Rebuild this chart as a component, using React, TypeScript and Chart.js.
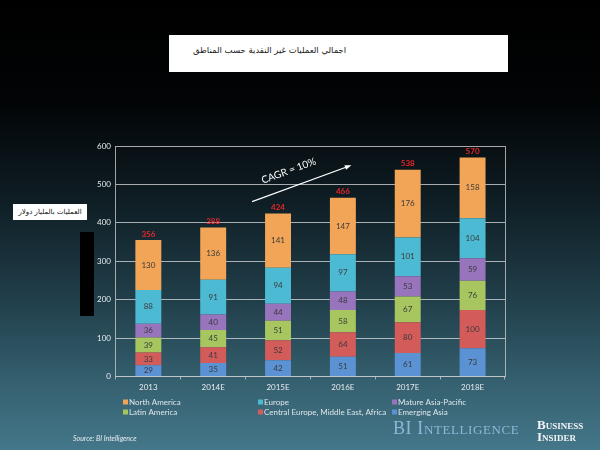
import React, { useEffect, useRef } from "react";
import { Chart, registerables } from "chart.js";
Chart.register(...registerables);

const categories = ["2013", "2014E", "2015E", "2016E", "2017E", "2018E"];
const emergingAsia = [29, 35, 42, 51, 61, 73];
const centralEuropeMEA = [33, 41, 52, 64, 80, 100];
const latinAmerica = [39, 45, 51, 58, 67, 76];
const matureAsiaPacific = [36, 40, 44, 48, 53, 59];
const europe = [88, 91, 94, 97, 101, 104];
const northAmerica = [130, 136, 141, 147, 176, 158];
const totals = [356, 388, 424, 466, 538, 570];
const yMax = 600;
const yStep = 100;
const cagrLabel = "CAGR = 10%";
// arrow endpoints in data space: [category index, value]
const cagrStart = [1.6, 455];
const cagrEnd = [3.1, 548];

const seriesNames = [
  "Emerging Asia",
  "Central Europe, Middle East, Africa",
  "Latin America",
  "Mature Asia-Pacific",
  "Europe",
  "North America",
];
const seriesValues = [emergingAsia, centralEuropeMEA, latinAmerica, matureAsiaPacific, europe, northAmerica];
const seriesColors = ["#5b92d3", "#d35b5a", "#a8c65f", "#9874bd", "#4dbad3", "#f2a557"];
const legendOrder = [5, 4, 3, 2, 1, 0];

const FONT = "Lato, 'Open Sans', sans-serif";

const overlayPlugin = {
  id: "overlay",
  afterDatasetsDraw(chart: any) {
    const ctx = chart.ctx;
    const area = chart.chartArea;
    const xs = chart.scales.x;
    const ys = chart.scales.y;
    ctx.save();
    ctx.strokeStyle = "rgba(200,200,200,0.8)";
    ctx.lineWidth = 1;
    ctx.beginPath();
    ctx.moveTo(Math.round(area.right) + 0.5, area.top);
    ctx.lineTo(Math.round(area.right) + 0.5, area.bottom);
    ctx.stroke();

    ctx.textAlign = "center";
    ctx.textBaseline = "middle";
    ctx.font = `8px ${FONT}`;
    chart.data.datasets.forEach((ds: any, di: number) => {
      const meta = chart.getDatasetMeta(di);
      meta.data.forEach((el: any, i: number) => {
        ctx.fillStyle = "#3a3a3a";
        ctx.fillText(String(ds.data[i]), el.x, (el.y + el.base) / 2);
      });
    });
    const topMeta = chart.getDatasetMeta(chart.data.datasets.length - 1);
    ctx.font = `bold 8px ${FONT}`;
    ctx.fillStyle = "#e8262a";
    topMeta.data.forEach((el: any, i: number) => {
      ctx.fillText(String(totals[i]), el.x, el.y - 6);
    });

    const x1 = xs.getPixelForValue(cagrStart[0]);
    const y1 = ys.getPixelForValue(cagrStart[1]);
    const x2 = xs.getPixelForValue(cagrEnd[0]);
    const y2 = ys.getPixelForValue(cagrEnd[1]);
    ctx.strokeStyle = "#ffffff";
    ctx.fillStyle = "#ffffff";
    ctx.lineWidth = 1.2;
    ctx.beginPath();
    ctx.moveTo(x1, y1);
    ctx.lineTo(x2, y2);
    ctx.stroke();
    const ang = Math.atan2(y2 - y1, x2 - x1);
    ctx.beginPath();
    ctx.moveTo(x2 + 2, y2 - 0.7);
    ctx.lineTo(x2 - 5 * Math.cos(ang - 0.5), y2 - 5 * Math.sin(ang - 0.5));
    ctx.lineTo(x2 - 5 * Math.cos(ang + 0.5), y2 - 5 * Math.sin(ang + 0.5));
    ctx.closePath();
    ctx.fill();
    ctx.save();
    const mx = (x1 + x2) / 2 - 12;
    const my = (y1 + y2) / 2 - 13;
    ctx.translate(mx, my);
    ctx.rotate(ang);
    ctx.font = `10px ${FONT}`;
    ctx.textAlign = "center";
    ctx.textBaseline = "middle";
    ctx.fillText(cagrLabel, 0, 0);
    ctx.restore();

    const colX = [123, 258, 392];
    const rowY = [402, 412];
    ctx.font = `8px ${FONT}`;
    ctx.textAlign = "left";
    ctx.textBaseline = "middle";
    legendOrder.forEach((si, k) => {
      const cx = colX[k % 3];
      const cy = rowY[Math.floor(k / 3)];
      ctx.fillStyle = seriesColors[si];
      ctx.fillRect(cx, cy - 2.5, 5, 5);
      ctx.fillStyle = "#dfe6ea";
      ctx.fillText(seriesNames[si], cx + 6, cy);
    });
    ctx.restore();
  },
};

export default function App() {
  const ref = useRef<HTMLCanvasElement>(null);
  useEffect(() => {
    document.body.style.margin = "0";
    const chart = new Chart(ref.current!, {
      type: "bar",
      data: {
        labels: categories,
        datasets: seriesValues.map((vals, i) => ({
          label: seriesNames[i],
          data: vals,
          backgroundColor: seriesColors[i],
          borderWidth: 0,
          barPercentage: 0.8,
          categoryPercentage: 0.5,
        })),
      },
      options: {
        responsive: false,
        animation: false,
        layout: { padding: { left: 92, right: 95, top: 146, bottom: 55 } },
        plugins: { legend: { display: false }, tooltip: { enabled: false } },
        scales: {
          x: {
            stacked: true,
            grid: { display: true, drawOnChartArea: false, color: "rgba(200,200,200,0.8)", tickLength: 3 },
            border: { color: "rgba(200,200,200,0.8)" },
            ticks: { color: "#e6ecef", font: { family: FONT, size: 8 }, padding: 3 },
          },
          y: {
            stacked: true,
            min: 0,
            max: yMax,
            ticks: { stepSize: yStep, color: "#e6ecef", font: { family: FONT, size: 8 }, padding: 5 },
            grid: { color: "rgba(220,220,220,0.75)", drawTicks: false },
            border: { color: "rgba(200,200,200,0.8)" },
          },
        },
      },
      plugins: [overlayPlugin],
    });
    return () => chart.destroy();
  }, []);

  return (
    <div
      style={{
        position: "absolute",
        left: 0,
        top: 0,
        width: 600,
        height: 450,
        overflow: "hidden",
        background:
          "linear-gradient(to bottom, #000000 0%, #020405 22%, #0f1e25 45%, #22414d 68%, #35606f 85%, #44778a 100%)",
      }}
    >
      <div
        style={{
          position: "absolute",
          left: 169,
          top: 35,
          width: 339,
          height: 37,
          background: "#ffffff",
        }}
      >
        <div
          dir="rtl"
          style={{
            position: "absolute",
            left: 24,
            top: 10,
            fontFamily: "'DejaVu Sans', serif",
            fontSize: 8.5,
            color: "#222",
            whiteSpace: "nowrap",
          }}
        >
          اجمالي العمليات غير النقدية حسب المناطق
        </div>
      </div>
      <div
        dir="rtl"
        style={{
          position: "absolute",
          left: 13,
          top: 204,
          width: 74,
          height: 16,
          background: "#ffffff",
          fontFamily: "'DejaVu Sans', serif",
          fontSize: 7,
          color: "#111",
          lineHeight: "16px",
          textAlign: "center",
          whiteSpace: "nowrap",
        }}
      >
        العمليات بالمليار دولار
      </div>
      <div style={{ position: "absolute", left: 80, top: 232, width: 14, height: 84, background: "#000" }} />
      <canvas ref={ref} width={600} height={450} style={{ position: "absolute", left: 0, top: 0 }} />
      <div
        style={{
          position: "absolute",
          left: 73,
          top: 434,
          fontFamily: FONT,
          fontStyle: "italic",
          fontSize: 7,
          color: "#e6ecef",
        }}
      >
        Source: BI Intelligence
      </div>
      <div
        style={{
          position: "absolute",
          left: 393,
          top: 418,
          fontFamily: "'Liberation Serif', serif",
          fontVariant: "small-caps",
          fontSize: 18,
          color: "#8db7d8",
          letterSpacing: 0.6,
          whiteSpace: "nowrap",
        }}
      >
        BI Intelligence
      </div>
      <div
        style={{
          position: "absolute",
          left: 537,
          top: 419,
          fontFamily: "'Liberation Serif', serif",
          fontVariant: "small-caps",
          fontWeight: "bold",
          fontSize: 13,
          lineHeight: "12px",
          color: "#f2f4f5",
          whiteSpace: "nowrap",
        }}
      >
        Business
        <br />
        Insider
      </div>
    </div>
  );
}
